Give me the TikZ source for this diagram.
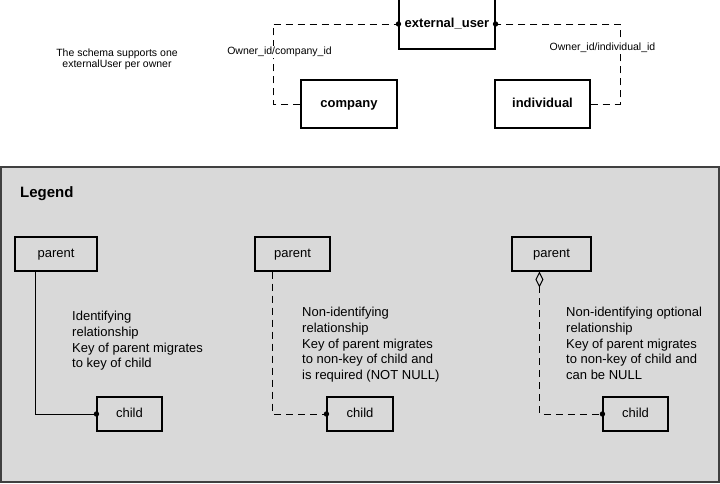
\documentclass[tikz,border=0pt]{standalone}
\usepackage{fontspec}
\setmainfont{Liberation Sans}
\usetikzlibrary{arrows.meta,calc}
\definecolor{legendfill}{HTML}{D9D9D9}
\definecolor{legendline}{HTML}{404040}
\begin{document}
\begin{tikzpicture}[x=1pt,y=-1pt,
  entity/.style={draw=black,line width=1.1pt,fill=white,inner sep=0pt,
     text height=9.4pt,text depth=2.7pt,
     font=\fontsize{13}{15}\selectfont\bfseries},
  legbox/.style={draw=black,line width=1.1pt,inner sep=0pt,
     text height=9.4pt,text depth=2.7pt,
     font=\fontsize{13}{15}\selectfont},
  rel/.style={line width=1pt,draw=black},
  dashrel/.style={rel,dash pattern=on 7pt off 5pt},
  smalltxt/.style={font=\fontsize{10.5}{11.5}\selectfont,inner sep=1pt},
  desc/.style={font=\fontsize{13}{15.7}\selectfont,align=left,anchor=north west,inner sep=0pt},
  dot/.style={fill=black}
]
\useasboundingbox (0,0) rectangle (720,483);

% ---- top diagram ----
\node[entity,minimum width=96pt,minimum height=50pt] (ext) at (447,24) {external\_user};
\node[entity,minimum width=96pt,minimum height=48pt] (comp) at (349,104) {company};
\node[entity,minimum width=95pt,minimum height=48pt] (indiv) at (542.5,104) {individual};

\coordinate (cl) at (273,24);
\coordinate (cr) at (620,24);
\draw[dashrel] (comp.west) -| (cl) -- (ext.west);
\draw[dashrel] (indiv.east) -| (cr) -- (ext.east);
\fill[dot] (ext.west) circle (2.7);
\fill[dot] (ext.east) circle (2.7);

\node[smalltxt,fill=white] (lab1) at (279.5,52) {Owner\_id/company\_id};
\node[smalltxt,fill=white] (lab2) at (602.5,48) {Owner\_id/individual\_id};
\node[smalltxt,align=center] (note) at (117,59.5) {The schema supports one\\externalUser per owner};

% ---- legend ----
\draw[draw=legendline,line width=1.5pt,fill=legendfill] (1,167) rectangle (719,482);
\node[anchor=base west,inner sep=0pt,font=\fontsize{15}{18}\selectfont\bfseries] (legtitle) at (20,197.5) {Legend};

\node[legbox,minimum width=82pt,minimum height=34pt] (p1) at (56,254) {parent};
\node[legbox,minimum width=65pt,minimum height=34pt] (ch1) at (129.5,414) {child};
\draw[rel] ($(p1.south west)+(21,0)$) |- (ch1.west);
\fill[dot] (ch1.west) circle (2.7);
\node[desc] (d1) at (72,311) {Identifying\\relationship\\Key of parent migrates\\to key of child};

\node[legbox,minimum width=75pt,minimum height=34pt] (p2) at (292.5,254) {parent};
\node[legbox,minimum width=66pt,minimum height=34pt] (ch2) at (360,414) {child};
\draw[dashrel] ($(p2.south west)+(18,0)$) |- (ch2.west);
\fill[dot] (ch2.west) circle (2.7);
\node[desc] (d2) at (302,307) {Non-identifying\\relationship\\Key of parent migrates\\to non-key of child and\\is required (NOT NULL)};

\node[legbox,minimum width=79pt,minimum height=34pt] (p3) at (551.5,254) {parent};
\node[legbox,minimum width=65pt,minimum height=34pt] (ch3) at (635.5,414) {child};
\draw[dashrel,{Diamond[open,length=16pt,width=8pt,line width=1pt]}-] ($(p3.south west)+(28,0)$) |- (ch3.west);
\fill[dot] (ch3.west) circle (2.7);
\node[desc] (d3) at (566,307) {Non-identifying optional\\relationship\\Key of parent migrates\\to non-key of child and\\can be NULL};
\end{tikzpicture}
\end{document}
